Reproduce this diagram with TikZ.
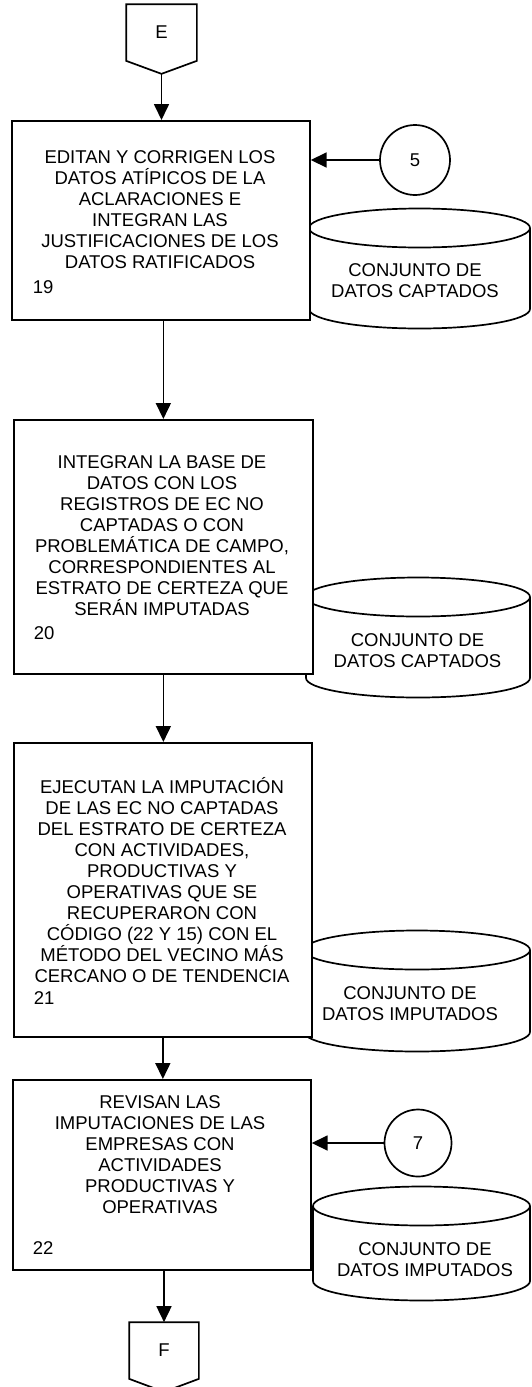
\documentclass[tikz,border=0pt]{standalone}
\usepackage{fontspec}
\setmainfont{Liberation Sans}
\usetikzlibrary{arrows.meta,calc}
% data store drawn as a cylinder: left x, top y, bottom y
\newcommand{\datastore}[3]{%
  \pgfmathsetmacro{\dsrx}{(530-#1)/2}%
  \pgfmathsetmacro{\dscx}{(530+#1)/2}%
  \draw[fill=white] (#1,#2) -- (#1,#3) arc[start angle=180,end angle=360,x radius=\dsrx pt,y radius=19.5pt] -- (530,#2);
  \draw[fill=white] (\dscx,#2) ellipse[x radius=\dsrx pt,y radius=19.5pt];
}

\begin{document}
\begin{tikzpicture}[x=1pt,y=-1pt,line width=1.7pt,
  font=\fontsize{18.5pt}{21pt}\selectfont,
  flow/.style={-{Triangle[length=16pt,width=15pt]}},
  procbox/.style={draw,fill=white,anchor=north west,inner sep=0pt},
  steptext/.style={align=center,inner sep=0pt},
  stepnum/.style={anchor=west,inner sep=0pt},
  connector/.style={draw,circle,inner sep=0pt},
  offpage/.style={minimum width=69pt,minimum height=55pt,inner sep=0pt}]
\useasboundingbox (0,0) rectangle (531,1387);
% data stores
\datastore{309}{228}{309}
\datastore{306}{597}{678}
\datastore{304}{950}{1032}
\datastore{313}{1206}{1281}
\node[steptext] (s1) at (415,281) {CONJUNTO DE\\DATOS CAPTADOS};
\node[steptext] (s2) at (417.5,651) {CONJUNTO DE\\DATOS CAPTADOS};
\node[steptext] (s3) at (410,1003.5) {CONJUNTO DE\\DATOS IMPUTADOS};
\node[steptext] (s4) at (425,1260) {CONJUNTO DE\\DATOS IMPUTADOS};
% off-page connectors
\node[offpage] (E) at (161.5,32.5) {E};
\draw (E.north west) -- (E.north east) -- (E.south east) -- ($(E.south)+(0,13)$) -- (E.south west) -- cycle;
\coordinate (Etip) at ($(E.south)+(0,13)$);
\node[offpage,minimum width=68pt] (F) at (164,1350.5) {F};
\draw (F.north west) -- (F.north east) -- (F.south east) -- ($(F.south)+(0,13)$) -- (F.south west) -- cycle;
% process boxes
\node[procbox,minimum width=298pt,minimum height=199pt] (b19) at (11,120) {};
\node[steptext] (t19) at (160,210) {EDITAN Y CORRIGEN LOS\\DATOS ATÍPICOS DE LA\\ACLARACIONES E\\INTEGRAN LAS\\JUSTIFICACIONES DE LOS\\DATOS RATIFICADOS};
\node[stepnum] (n19) at (32,287) {19};
\node[procbox,minimum width=299pt,minimum height=254pt] (b20) at (13,419) {};
\node[steptext] (t20) at (162,536) {INTEGRAN LA BASE DE\\DATOS CON LOS\\REGISTROS DE EC NO\\CAPTADAS O CON\\PROBLEMÁTICA DE CAMPO,\\CORRESPONDIENTES AL\\ESTRATO DE CERTEZA QUE\\SERÁN IMPUTADAS};
\node[stepnum] (n20) at (33,633) {20};
\node[procbox,minimum width=298pt,minimum height=294pt] (b21) at (13,742) {};
\node[steptext] (t21) at (162,880.5) {EJECUTAN LA IMPUTACIÓN\\DE LAS EC NO CAPTADAS\\DEL ESTRATO DE CERTEZA\\CON ACTIVIDADES,\\PRODUCTIVAS Y\\OPERATIVAS QUE SE\\RECUPERARON CON\\CÓDIGO (22 Y 15) CON EL\\MÉTODO DEL VECINO MÁS\\CERCANO O DE TENDENCIA};
\node[stepnum] (n21) at (33,998) {21};
\node[procbox,minimum width=298pt,minimum height=190pt] (b22) at (12,1079) {};
\node[steptext] (t22) at (160,1154.5) {REVISAN LAS\\IMPUTACIONES DE LAS\\EMPRESAS CON\\ACTIVIDADES\\PRODUCTIVAS Y\\OPERATIVAS};
\node[stepnum] (n22) at (32,1248) {22};
% connectors
\node[connector,minimum size=70pt] (c5) at (415,160) {5};
\node[connector,minimum size=67pt] (c7) at (418,1143) {7};
\draw[flow] (c5) -- (c5 -| b19.east);
\draw[flow] (c7) -- (c7 -| b22.east);
% flow
\draw[flow] (Etip) -- (Etip |- b19.north);
\draw[flow] (b19.south -| b20.north) -- (b20.north);
\draw[flow] (b20.south) -- (b20.south |- b21.north);
\draw[flow] (b21.south) -- (b21.south |- b22.north);
\draw[flow] (F.north |- b22.south) -- (F.north);
\end{tikzpicture}
\end{document}
